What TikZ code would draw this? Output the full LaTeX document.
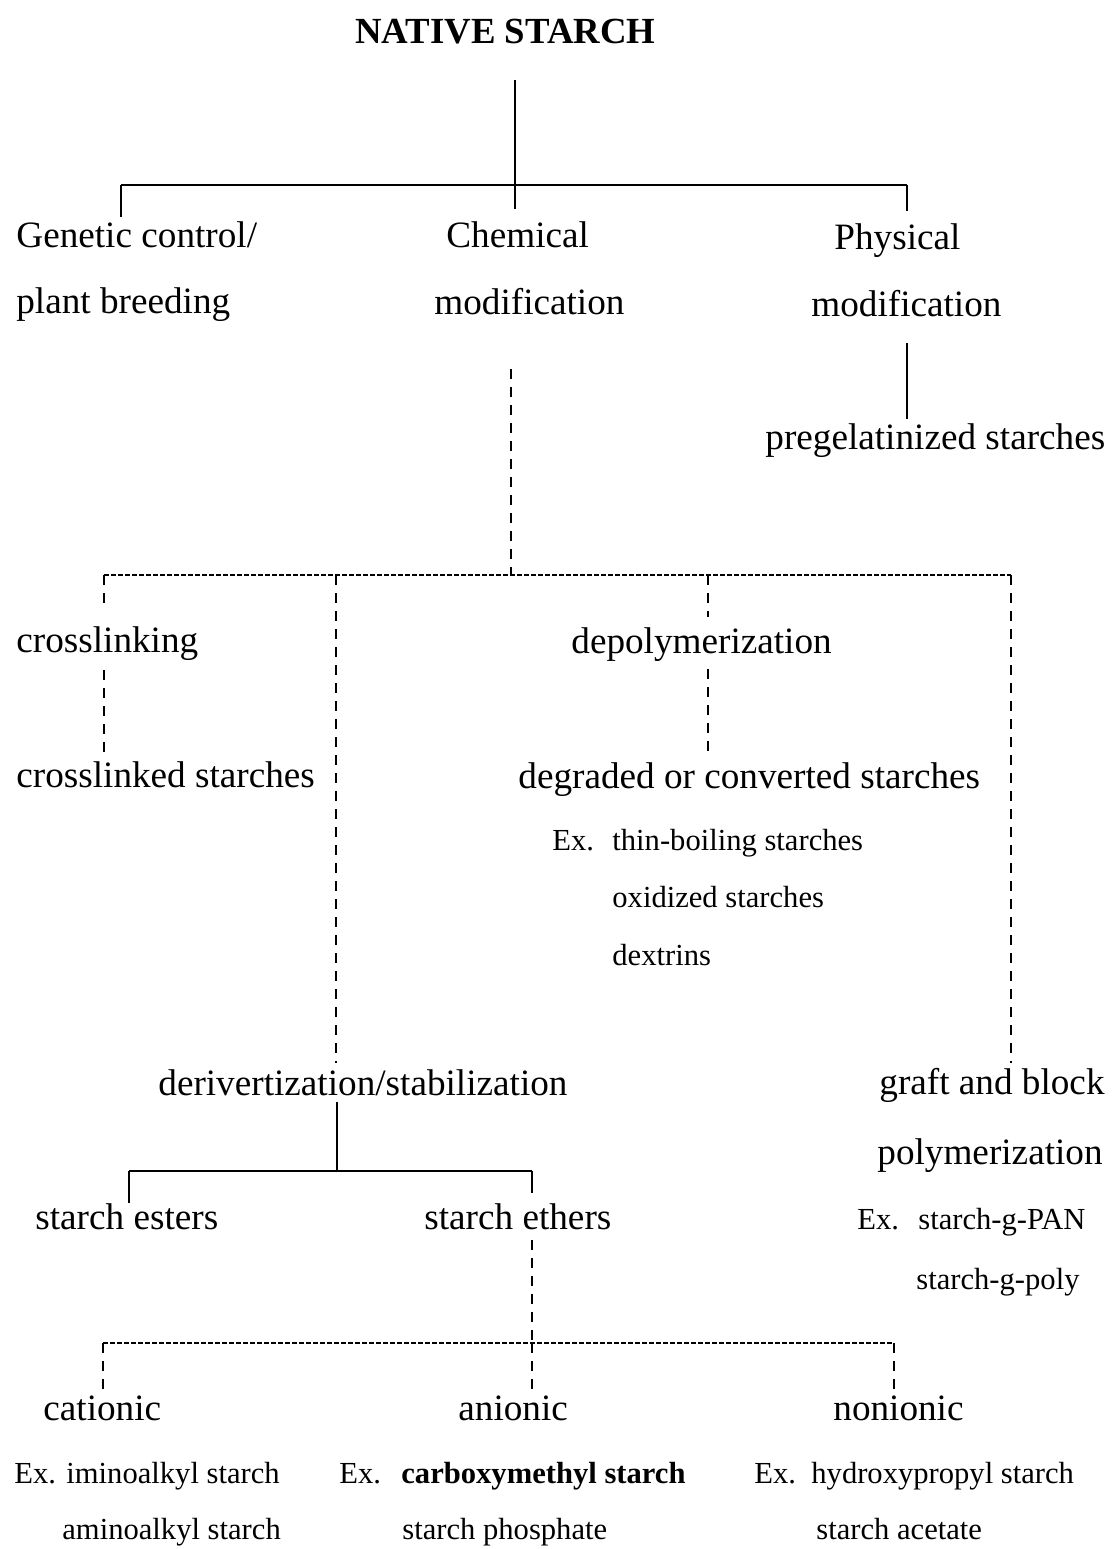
\documentclass[tikz,border=0pt]{standalone}
\usepackage{fontspec}
\setmainfont{Liberation Serif}
\usetikzlibrary{positioning, calc}

\tikzset{
  lbl/.style={anchor=base west, inner sep=0pt, font=\fontsize{18.6}{22}\selectfont},
  exlbl/.style={anchor=base west, inner sep=0pt, font=\fontsize{15.3}{18}\selectfont},
  ttl/.style={anchor=base west, inner sep=0pt, font=\fontsize{18.4}{22}\selectfont\bfseries},
  solidline/.style={line width=0.6pt},
  busdash/.style={line width=1.1pt, dash pattern=on 2.5pt off 1pt},
  dropdash/.style={line width=0.6pt, dash pattern=on 5pt off 4pt},
}

\begin{document}
\begin{tikzpicture}[x=0.5pt, y=-0.5pt]
  \useasboundingbox (0,0) rectangle (1113,1549);

  % first level
  \node[ttl] (native) at (355,43) {NATIVE STARCH};
  \node[lbl] (gen)    at (16,247)  {Genetic control/};
  \node[lbl] (gen2)   at (16,313)  {plant breeding};
  \node[lbl] (chem)   at (446,247) {Chemical};
  \node[lbl] (chem2)  at (434,314) {modification};
  \node[lbl] (phys)   at (834,249) {Physical};
  \node[lbl] (phys2)  at (811,316) {modification};
  \node[lbl] (pregel) at (765,449) {pregelatinized starches};

  % chemical modification
  \node[lbl] (cross)   at (16,652)  {crosslinking};
  \node[lbl] (crossed) at (16,787)  {crosslinked starches};
  \node[lbl] (depol)   at (571,653) {depolymerization};
  \node[lbl] (degr)    at (518,788) {degraded or converted starches};
  \node[exlbl] (ex1)   at (552,850) {Ex.};
  \node[exlbl] (thin)  at (612,850) {thin-boiling starches};
  \node[exlbl] (oxid)  at (612,907) {oxidized starches};
  \node[exlbl] (dextr) at (612,965) {dextrins};
  \node[lbl] (deriv)   at (158,1095) {derivertization/stabilization};
  \node[lbl] (graft)   at (879,1094) {graft and block};
  \node[lbl] (graft2)  at (877,1164) {polymerization};
  \node[exlbl] (ex2)   at (857,1229) {Ex.};
  \node[exlbl] (pan)   at (918,1229) {starch-g-PAN};
  \node[exlbl] (gpoly) at (916,1289) {starch-g-poly};

  % derivatives
  \node[lbl] (esters) at (35,1229)  {starch esters};
  \node[lbl] (ethers) at (424,1229) {starch ethers};
  \node[lbl] (cat)    at (43,1420)  {cationic};
  \node[lbl] (anion)  at (458,1420) {anionic};
  \node[lbl] (nonion) at (833,1420) {nonionic};
  \node[exlbl] (ex3)     at (14,1483)  {Ex.};
  \node[exlbl] (imino)   at (66,1483)  {iminoalkyl starch};
  \node[exlbl] (amino)   at (62,1539)  {aminoalkyl starch};
  \node[exlbl] (ex4)     at (339,1483) {Ex.};
  \node[exlbl] (carboxy) at (401,1483) {\bfseries carboxymethyl starch};
  \node[exlbl] (phosph)  at (402,1539) {starch phosphate};
  \node[exlbl] (ex5)     at (754,1483) {Ex.};
  \node[exlbl] (hydroxy) at (811,1483) {hydroxypropyl starch};
  \node[exlbl] (acet)    at (816,1539) {starch acetate};

  % solid tree at the top
  \coordinate (jtop)  at (515,185);
  \coordinate (jgen)  at (121,185);
  \coordinate (jphys) at (907,185);
  \draw[solidline, shorten <=18pt, shorten >=6pt] (jtop |- native.south) -- (jtop |- chem.north);
  \draw[solidline] (jgen) -- (jphys);
  \draw[solidline, shorten >=2pt] (jgen) -- (jgen |- gen.north);
  \draw[solidline, shorten >=6pt] (jphys) -- (jphys |- phys.north);
  \draw[solidline, shorten <=13pt, shorten >=2pt] (jphys |- phys2.south) -- (jphys |- pregel.north);

  % dashed tree below chemical modification
  \coordinate (jchem)  at (511,575);
  \coordinate (jcross) at (104,575);
  \coordinate (jderiv) at (336,575);
  \coordinate (jdepol) at (708,575);
  \coordinate (jgraft) at (1011,575);
  \draw[dropdash, shorten <=27pt] (jchem |- chem2.south) -- (jchem);
  \draw[busdash] (jcross) -- (jgraft);
  \draw[dropdash, shorten >=10pt] (jcross) -- (jcross |- cross.north);
  \draw[dropdash, shorten <=5pt, shorten >=2pt] (jcross |- cross.south) -- (jcross |- crossed.north);
  \draw[dropdash, shorten >=3pt] (jderiv) -- (jderiv |- deriv.north);
  \draw[dropdash, shorten >=5pt] (jdepol) -- (jdepol |- depol.north);
  \draw[dropdash, shorten <=4pt, shorten >=2pt] (jdepol |- depol.south) -- (jdepol |- degr.north);
  \draw[dropdash, shorten >=2pt] (jgraft) -- (jgraft |- graft.north);

  % esters and ethers
  \coordinate (jmid) at (337,1171);
  \coordinate (jest) at (129,1171);
  \coordinate (jeth) at (532,1171);
  \draw[solidline, shorten <=3pt] (jmid |- deriv.south) -- (jmid);
  \draw[solidline] (jest) -- (jeth);
  \draw[solidline] (jest) -- (jest |- esters.north);
  \draw[solidline, shorten >=5pt] (jeth) -- (jeth |- ethers.north);

  % ionic types
  \coordinate (jion) at (532,1343);
  \coordinate (jcat) at (103,1343);
  \coordinate (jnon) at (894,1343);
  \draw[dropdash, shorten <=5pt] (jion |- ethers.south) -- (jion);
  \draw[busdash] (jcat) -- (jnon);
  \draw[dropdash] (jcat) -- (jcat |- cat.north);
  \draw[dropdash] (jion) -- (jion |- anion.north);
  \draw[dropdash] (jnon) -- (jnon |- nonion.north);
\end{tikzpicture}
\end{document}
